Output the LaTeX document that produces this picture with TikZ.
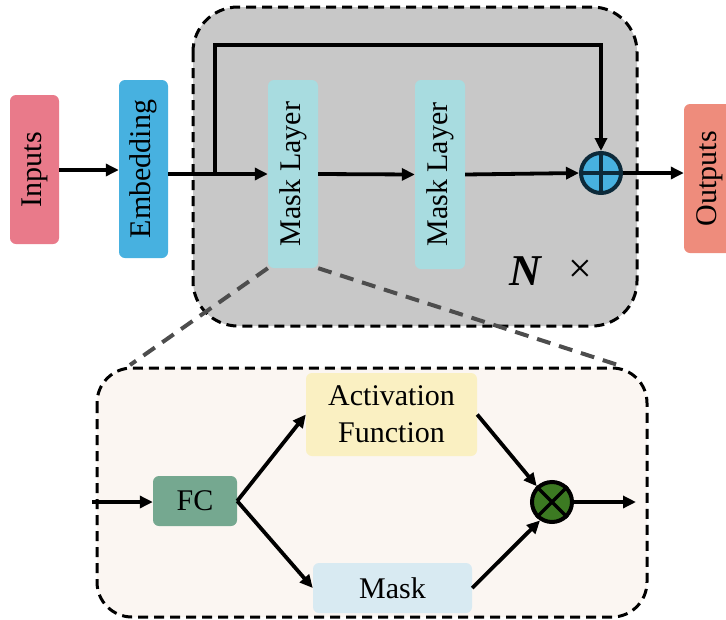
\documentclass[tikz,border=0pt]{standalone}
\usepackage{fontspec}
\setmainfont{Liberation Serif}
\usetikzlibrary{arrows.meta}
\definecolor{grayc}{HTML}{C8C8C8}
\definecolor{inputc}{HTML}{E97A8A}
\definecolor{embc}{HTML}{47B1E0}
\definecolor{maskc}{HTML}{A8DCE0}
\definecolor{outc}{HTML}{EE8C7C}
\definecolor{plusc}{HTML}{47B1E0}
\definecolor{navy}{HTML}{0D2A3A}
\definecolor{lowc}{HTML}{FBF6F2}
\definecolor{fcc}{HTML}{75A890}
\definecolor{actc}{HTML}{FAF0C2}
\definecolor{mskc}{HTML}{D8EAF2}
\definecolor{timesc}{HTML}{3C7A22}
\definecolor{dgray}{HTML}{4D4D4D}
\tikzset{
  blk/.style={rounded corners=6pt, inner sep=0pt, font=\fontsize{30}{37}\selectfont},
  arr/.style={line width=3.8pt, -{Triangle[length=13pt,width=12pt]}},
  bigbox/.style={draw=black, line width=3pt, dash pattern=on 10pt off 6pt},
  zoomline/.style={draw=dgray, line width=4pt, dash pattern=on 14pt off 9pt}
}
\begin{document}
\begin{tikzpicture}[x=1pt,y=-1pt]
\useasboundingbox (0,0) rectangle (726,619);
\begin{scope}
\clip (0,0) rectangle (726,619);
% big gray box
\path[bigbox, fill=grayc, rounded corners=45pt] (193,7) rectangle (637,326);
% zoom lines
\coordinate (zl) at (130,365);
\coordinate (zr) at (618,365);
% nodes top
\node[blk, fill=inputc, minimum width=49pt, minimum height=149pt] (in) at (34.5,169.5) {\rotatebox{90}{Inputs}};
\node[blk, fill=embc, minimum width=49pt, minimum height=178pt] (emb) at (143.5,169) {\rotatebox{90}{Embedding}};
\node[blk, fill=maskc, minimum width=50pt, minimum height=188pt] (m1) at (293,174) {\rotatebox{90}{Mask Layer}};
\node[blk, fill=maskc, minimum width=50pt, minimum height=189pt] (m2) at (440,174.5) {\rotatebox{90}{Mask Layer}};
\node[blk, fill=outc, minimum width=52pt, minimum height=149pt] (out) at (710,178.5) {\rotatebox{90}{Outputs}};
\node[circle, draw=navy, line width=4pt, fill=plusc, minimum size=40pt, inner sep=0pt] (plus) at (601,173) {};
\draw[navy, line width=3.5pt] (plus.north) -- (plus.south) (plus.west) -- (plus.east);
\node[font=\fontsize{44}{44}\selectfont\bfseries\itshape] (nlab) at (525,271) {N};
\node[font=\fontsize{42}{42}\selectfont] (xlab) at (580,271) {×};
\draw[zoomline] (m1.south west) -- (zl);
\draw[zoomline] (m1.south east) -- (zr);
% top connectors
\draw[arr] (in.east |- 0,170) -- (emb.west |- 0,170);
\draw[arr] (emb.east |- m1.west) -- (m1.west);
\coordinate (br) at (215,174);
\coordinate (skip) at (601,45);
\draw[arr] (br) |- (skip) -- (plus.north);
\draw[arr] (m1.east) -- (m2.west);
\draw[arr] (m2.east) -- (plus.west);
\draw[arr] (plus.east) -- (out.west |- plus.east);
% lower box
\path[bigbox, fill=lowc, rounded corners=35pt] (97,368) rectangle (647,617);
\node[blk, fill=fcc, minimum width=84pt, minimum height=50pt] (fc) at (195,501) {FC};
\node[blk, fill=actc, minimum width=171pt, minimum height=83pt, align=center] (act) at (391.5,414.5) {Activation\\Function};
\node[blk, fill=mskc, minimum width=159pt, minimum height=50pt] (msk) at (392.5,588) {Mask};
\node[circle, draw=black, line width=4pt, fill=timesc, minimum size=40pt, inner sep=0pt] (times) at (552,502) {};
\draw[black, line width=3.5pt] (times.45) -- (times.225) (times.135) -- (times.315);
\coordinate (lin) at (92,502);
\coordinate (lout) at (636,502);
\draw[arr] (lin) -- (fc.west |- lin);
\draw[arr] (fc.east) -- (act.west);
\draw[arr] (fc.east) -- (msk.west);
\draw[arr] (act.east) -- (times.134);
\draw[arr] (msk.east) -- (times.237);
\draw[arr] (times.east) -- (lout);
\end{scope}
\end{tikzpicture}
\end{document}
